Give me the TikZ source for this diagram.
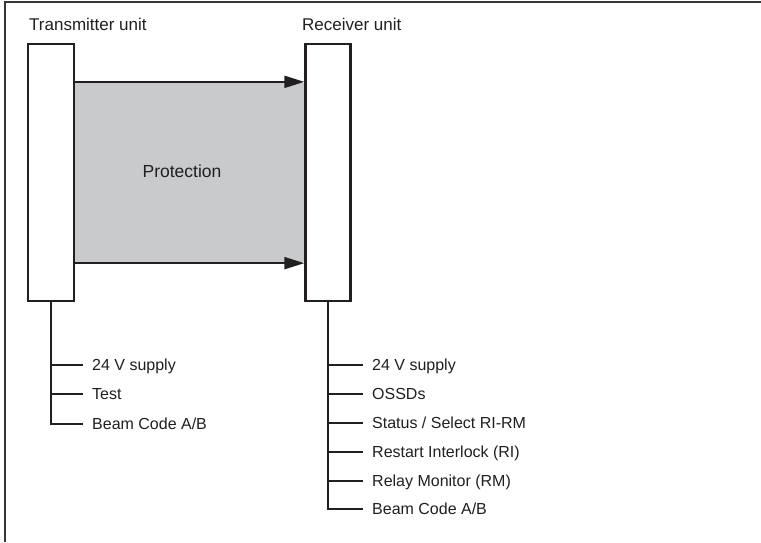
\documentclass[tikz,border=0pt]{standalone}
\usepackage{fontspec}
\setmainfont{Liberation Sans}
\usetikzlibrary{arrows.meta}
\definecolor{ink}{HTML}{231F20}
\definecolor{zone}{HTML}{C9CACC}
\begin{document}
\begin{tikzpicture}[x=1pt,y=-1pt,
  unitbox/.style={draw=ink,line width=2.3pt,fill=white,minimum width=46pt,minimum height=257pt,inner sep=0pt},
  beam/.style={draw=ink,line width=2pt,-{Triangle[length=20pt,width=12pt]}},
  wire/.style={draw=ink,line width=1.3pt},
  lbl/.style={anchor=west,inner xsep=9pt,inner ysep=0pt,text height=11.5pt,text depth=0pt,font=\fontsize{16}{19}\selectfont,text=ink},
  head/.style={anchor=base west,inner sep=0pt,font=\fontsize{17}{20}\selectfont,text=ink}]
\useasboundingbox (0,0) rectangle (761,542);
\fill[white] (0,0) rectangle (761,542);
% frame
\draw[ink!90,line width=1.8pt] (761,2) -- (5,2) -- (5,542);
% protection zone
\fill[zone] (74,83) rectangle (305,262);
% units
\node[unitbox] (tx) at (51,172.5) {};
\node[unitbox,minimum width=45pt] (rx) at (328,172.5) {};
\node[head] (txl) at (29,30) {Transmitter unit};
\node[head] (rxl) at (302,30) {Receiver unit};
\node[anchor=base,inner sep=0pt,font=\fontsize{17.5}{20}\selectfont,text=ink] (prot) at (182,177) {Protection};
% beams
\draw[beam] ([yshift=-39pt]tx.north east) -- ([yshift=-39pt]rx.north west);
\draw[beam] ([yshift=39pt]tx.south east) -- ([yshift=39pt]rx.south west);
% transmitter wiring
\node[lbl] (t1) at (83,365) {24 V supply};
\node[lbl] (t2) at (83,394) {Test};
\node[lbl] (t3) at (83,424) {Beam Code A/B};
\draw[wire] (tx.south) |- (t3.west);
\draw[wire] (tx.south) |- (t2.west);
\draw[wire] (tx.south) |- (t1.west);
% receiver wiring
\node[lbl] (r1) at (363,365) {24 V supply};
\node[lbl] (r2) at (363,394) {OSSDs};
\node[lbl] (r3) at (363,423) {Status / Select RI-RM};
\node[lbl] (r4) at (363,452) {Restart Interlock (RI)};
\node[lbl] (r5) at (363,481) {Relay Monitor (RM)};
\node[lbl] (r6) at (363,509) {Beam Code A/B};
\draw[wire] (rx.south) |- (r6.west);
\draw[wire] (rx.south) |- (r5.west);
\draw[wire] (rx.south) |- (r4.west);
\draw[wire] (rx.south) |- (r3.west);
\draw[wire] (rx.south) |- (r2.west);
\draw[wire] (rx.south) |- (r1.west);
\end{tikzpicture}
\end{document}
